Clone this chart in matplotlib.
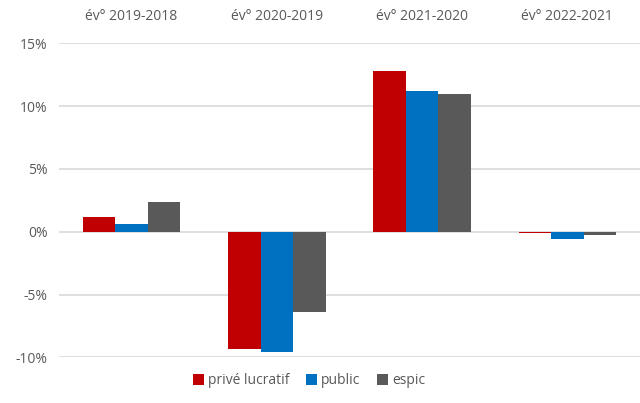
import matplotlib.pyplot as plt
import numpy as np

plt.rcParams['font.family'] = ['Open Sans', 'DejaVu Sans']

categories = ['év° 2019-2018', 'év° 2020-2019', 'év° 2021-2020', 'év° 2022-2021']
series = ['privé lucratif', 'public', 'espic']
prive = [1.2, -9.3, 12.8, -0.1]
public = [0.6, -9.6, 11.2, -0.6]
espic = [2.4, -6.4, 11.0, -0.25]
colors = ['#C00000', '#0070C0', '#595959']
yticks = [-10, -5, 0, 5, 10, 15]

fig = plt.figure(figsize=(6.4, 4.03), dpi=100)
ax = fig.add_axes([0.092, 0.113, 0.908, 0.7797])

x = np.arange(len(categories))
w = 0.224
for i, (vals, name) in enumerate(zip([prive, public, espic], series)):
    ax.bar(x + (i - 1) * w, vals, width=w, color=colors[i], label=name, zorder=3)

ax.set_xlim(-0.5, 3.5)
ax.set_ylim(-10, 15)
ax.set_yticks(yticks)
ax.set_yticklabels([f'{t}%' for t in yticks])
ax.yaxis.grid(True, color='#d9d9d9', lw=1.2, zorder=0)
for s in ax.spines.values():
    s.set_visible(False)

ax.set_xticks(x)
ax.set_xticklabels(categories)
ax.xaxis.tick_top()
ax.tick_params(axis='x', length=0, pad=14, labelsize=10, labelcolor='#595959')
ax.tick_params(axis='y', length=0, pad=8, labelsize=10, labelcolor='#595959')

fig.legend(loc='center', bbox_to_anchor=(0.483, 0.055), ncol=3, frameon=False,
           fontsize=10, handlelength=0.8, handleheight=0.8, handletextpad=0.3,
           columnspacing=1.2, labelcolor='#595959')

fig.savefig('out.png', dpi=100)
